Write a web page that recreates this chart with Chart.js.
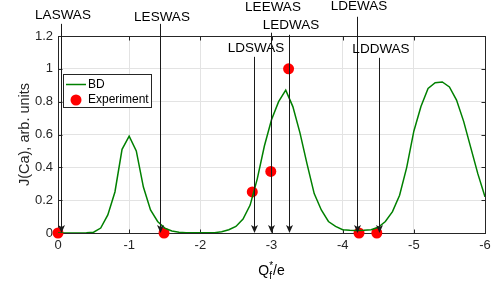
<!DOCTYPE html>
<html lang="en">
<head>
<meta charset="UTF-8">
<title>J(Ca) vs Qf*/e</title>
<script src="https://cdn.jsdelivr.net/npm/chart.js"></script>
<style>
  body { margin: 0; background: white; }
</style>
</head>
<body>
<canvas id="myChart" width="498" height="283"></canvas>
<script>
// BD curve, sampled every 0.1 from 0 to -6
const bdX = [0, -0.1, -0.2, -0.3, -0.4, -0.5, -0.6, -0.7, -0.8, -0.9,
  -1.0, -1.1, -1.2, -1.3, -1.4, -1.5, -1.6, -1.7, -1.8, -1.9,
  -2.0, -2.1, -2.2, -2.3, -2.4, -2.5, -2.6, -2.7, -2.8, -2.9,
  -3.0, -3.1, -3.2, -3.3, -3.4, -3.5, -3.6, -3.7, -3.8, -3.9,
  -4.0, -4.1, -4.2, -4.3, -4.4, -4.5, -4.6, -4.7, -4.8, -4.9,
  -5.0, -5.1, -5.2, -5.3, -5.4, -5.5, -5.6, -5.7, -5.8, -5.9, -6.0];
const bdY = [0, 0, 0, 0, 0.001, 0.005, 0.03, 0.11, 0.25, 0.51,
  0.59, 0.50, 0.28, 0.14, 0.07, 0.03, 0.012, 0.005, 0.002, 0.001,
  0.001, 0.001, 0.002, 0.008, 0.02, 0.04, 0.085, 0.17, 0.33, 0.53,
  0.69, 0.80, 0.87, 0.77, 0.61, 0.42, 0.24, 0.14, 0.07, 0.04,
  0.02, 0.017, 0.015, 0.017, 0.02, 0.035, 0.07, 0.13, 0.23, 0.40,
  0.62, 0.77, 0.88, 0.915, 0.92, 0.89, 0.81, 0.68, 0.52, 0.36, 0.22];

// experiment points
const expX = [0, -1.49, -2.73, -2.99, -3.24, -4.23, -4.48];
const expY = [0, 0, 0.25, 0.375, 1.0, 0, 0];

// labelled arrows (x, top of the shaft and label height in data units)
const arrowNames = ["LASWAS", "LESWAS", "LDSWAS", "LEEWAS", "LEDWAS", "LDEWAS", "LDDWAS"];
const arrowX = [-0.04, -1.43, -2.75, -2.99, -3.25, -4.2, -4.51];
const arrowTop = [1.274, 1.274, 1.073, 1.22, 1.207, 1.317, 1.067];
const labelY = [1.329, 1.317, 1.128, 1.372, 1.268, 1.378, 1.122];

const xTicks = [0, -1, -2, -3, -4, -5, -6];
const yTicks = [0, 0.2, 0.4, 0.6, 0.8, 1, 1.2];

const fontName = '"Liberation Sans", Arial, sans-serif';
const green = "rgb(0,128,0)";
const red = "rgb(255,0,0)";

const extras = {
  id: "extras",
  beforeDatasetsDraw(chart) {
    const { ctx, chartArea: a, scales: { x, y } } = chart;
    const l = Math.round(a.left) + 0.5, r = Math.round(a.right) + 0.5;
    const t = Math.round(a.top) + 0.5, b = Math.round(a.bottom) + 0.5;
    ctx.save();
    ctx.strokeStyle = "#262626";
    ctx.lineWidth = 1;
    ctx.strokeRect(l, t, r - l, b - t);
    ctx.beginPath();
    xTicks.forEach(v => {
      const px = Math.round(x.getPixelForValue(v)) + 0.5;
      ctx.moveTo(px, b); ctx.lineTo(px, b - 4);
      ctx.moveTo(px, t); ctx.lineTo(px, t + 4);
    });
    yTicks.forEach(v => {
      const py = Math.round(y.getPixelForValue(v)) + 0.5;
      ctx.moveTo(l, py); ctx.lineTo(l + 4, py);
      ctx.moveTo(r, py); ctx.lineTo(r - 4, py);
    });
    ctx.stroke();
    ctx.restore();
  },
  afterDatasetsDraw(chart) {
    const { ctx, chartArea: a, scales: { x, y } } = chart;
    ctx.save();

    // arrows with labels
    ctx.font = "13.5px " + fontName;
    ctx.textAlign = "center";
    ctx.textBaseline = "middle";
    const tip = Math.round(y.getPixelForValue(0));
    arrowNames.forEach((name, i) => {
      const px = Math.round(x.getPixelForValue(arrowX[i])) + 0.5;
      const top = y.getPixelForValue(arrowTop[i]);
      ctx.strokeStyle = "#1a1a1a";
      ctx.fillStyle = "#1a1a1a";
      ctx.lineWidth = 1;
      ctx.beginPath();
      ctx.moveTo(px, top);
      ctx.lineTo(px, tip - 5);
      ctx.stroke();
      ctx.beginPath();
      ctx.moveTo(px, tip);
      ctx.lineTo(px - 3.5, tip - 8);
      ctx.lineTo(px, tip - 6);
      ctx.lineTo(px + 3.5, tip - 8);
      ctx.closePath();
      ctx.fill();
      ctx.fillStyle = "#000";
      ctx.fillText(name, px + 1.5, y.getPixelForValue(labelY[i]));
    });

    // legend box
    ctx.fillStyle = "#fff";
    ctx.fillRect(63.5, 74.5, 88, 33);
    ctx.strokeStyle = "#262626";
    ctx.strokeRect(63.5, 74.5, 88, 33);
    ctx.strokeStyle = green;
    ctx.lineWidth = 1.5;
    ctx.beginPath();
    ctx.moveTo(66, 84.5);
    ctx.lineTo(86, 84.5);
    ctx.stroke();
    ctx.fillStyle = red;
    ctx.beginPath();
    ctx.arc(76, 100, 5.5, 0, Math.PI * 2);
    ctx.fill();
    ctx.fillStyle = "#000";
    ctx.font = "12px " + fontName;
    ctx.textAlign = "left";
    ctx.fillText("BD", 88, 85);
    ctx.fillText("Experiment", 88, 100);

    // x axis title Q_f^*/e
    const big = "14px " + fontName, small = "10px " + fontName;
    ctx.textBaseline = "alphabetic";
    ctx.font = big;
    const wQ = ctx.measureText("Q").width;
    const wE = ctx.measureText("/e").width;
    ctx.font = small;
    const wS = Math.max(ctx.measureText("*").width, ctx.measureText("f").width);
    let cx = (a.left + a.right) / 2 - (wQ + wS + wE) / 2;
    const base = 275;
    ctx.font = big;
    ctx.fillText("Q", cx, base);
    cx += wQ;
    ctx.font = small;
    ctx.fillText("*", cx, base - 6);
    ctx.fillText("f", cx, base + 4);
    cx += wS;
    ctx.font = big;
    ctx.fillText("/e", cx, base);
    ctx.restore();
  }
};

const tickLabel = v => String(Math.round(v * 10) / 10);

const ctx = document.getElementById("myChart");
new Chart(ctx, {
  type: "line",
  data: {
    datasets: [
      {
        label: "BD",
        data: bdX.map((v, i) => ({ x: v, y: bdY[i] })),
        borderColor: green,
        borderWidth: 1.5,
        pointRadius: 0,
        tension: 0,
        fill: false
      },
      {
        label: "Experiment",
        data: expX.map((v, i) => ({ x: v, y: expY[i] })),
        showLine: false,
        pointRadius: 5.5,
        pointBackgroundColor: red,
        pointBorderWidth: 0,
        borderColor: red,
        clip: false
      }
    ]
  },
  options: {
    responsive: false,
    animation: false,
    layout: { padding: { top: 36, right: 13, left: 0, bottom: 0 } },
    plugins: { legend: { display: false }, tooltip: { enabled: false } },
    scales: {
      x: {
        type: "linear",
        reverse: true,
        min: -6,
        max: 0,
        afterBuildTicks: s => { s.ticks = xTicks.map(v => ({ value: v })); },
        afterFit: s => { s.height = 50; },
        grid: { color: "#e3e3e3", drawTicks: false },
        border: { display: false },
        ticks: { color: "#262626", padding: 5, font: { family: fontName, size: 13 }, callback: tickLabel }
      },
      y: {
        min: 0,
        max: 1.2,
        afterBuildTicks: s => { s.ticks = yTicks.map(v => ({ value: v })); },
        afterFit: s => { s.width = 58; },
        grid: { color: "#e3e3e3", drawTicks: false },
        border: { display: false },
        ticks: { color: "#262626", padding: 5, font: { family: fontName, size: 13 }, callback: tickLabel },
        title: {
          display: true,
          text: "J(Ca), arb. units",
          color: "#262626",
          font: { family: fontName, size: 14.5 },
          padding: { top: 16, bottom: 0 }
        }
      }
    }
  },
  plugins: [extras]
});
</script>
</body>
</html>
